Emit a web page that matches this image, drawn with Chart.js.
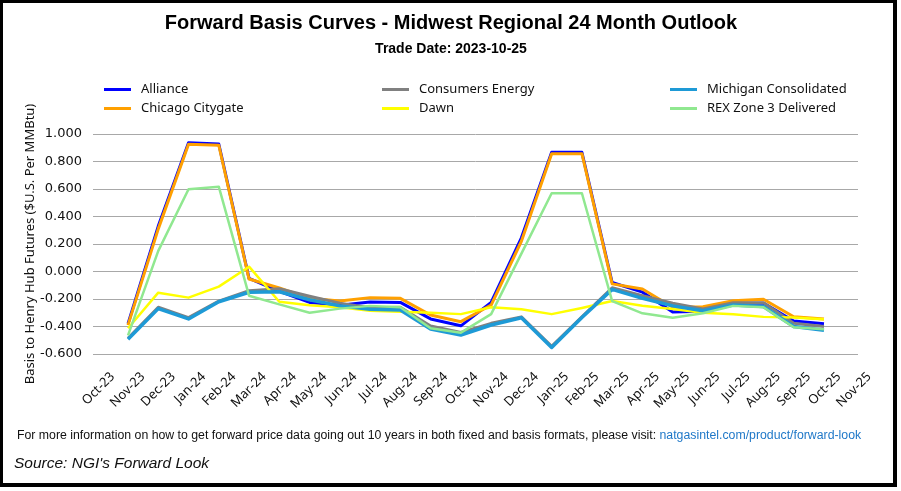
<!DOCTYPE html>
<html>
<head>
<meta charset="utf-8">
<script src="https://cdn.jsdelivr.net/npm/chart.js@4.4.0/dist/chart.umd.min.js"></script>
<style>
  html, body { margin: 0; padding: 0; background: #fff; }
  #wrap { position: relative; width: 901px; height: 491px; overflow: hidden; background: #fff; }
  #c { position: absolute; left: 0; top: 0; }
  .frame { position: absolute; left: 0; top: 0; width: 897px; height: 487px; box-sizing: border-box;
           border-style: solid; border-color: #000; border-width: 3px 4px 4px 3px; pointer-events: none; }
  .title { position: absolute; left: 0; width: 902px; text-align: center; white-space: nowrap;
           font-family: "Liberation Sans", Arial, sans-serif; font-weight: bold; color: #000; }
  #t1 { top: 12px; font-size: 20px; line-height: 20px; }
  #t2 { top: 41px; font-size: 14px; line-height: 14px; }
  .lg { position: absolute; font-family: "Noto Sans", sans-serif; font-size: 13px; line-height: 16px; color: #111; white-space: nowrap; }
  .sw { position: absolute; height: 3px; width: 27px; }
  #note { position: absolute; left: 17px; top: 429px; font-family: "Liberation Sans", Arial, sans-serif;
          font-size: 12.3px; line-height: 12px; color: #111; white-space: nowrap; }
  #note span { color: #1F78C8; }
  #src { position: absolute; left: 14px; top: 455px; font-family: "Liberation Sans", Arial, sans-serif;
         font-style: italic; font-size: 15.5px; line-height: 16px; color: #111; white-space: nowrap; }
</style>
</head>
<body>
<div id="wrap">
  <canvas id="c" width="901" height="491"></canvas>
  <div class="title" id="t1">Forward Basis Curves - Midwest Regional 24 Month Outlook</div>
  <div class="title" id="t2">Trade Date: 2023-10-25</div>
  <div id="legend"></div>
  <div id="note">For more information on how to get forward price data going out 10 years in both fixed and basis formats, please visit: <span>natgasintel.com/product/forward-look</span></div>
  <div id="src">Source: NGI's Forward Look</div>
  <div class="frame"></div>
</div>
<script>
// Axis tick labels (month axis)
const months = ['Oct-23','Nov-23','Dec-23','Jan-24','Feb-24','Mar-24','Apr-24','May-24','Jun-24','Jul-24','Aug-24','Sep-24','Oct-24',
                'Nov-24','Dec-24','Jan-25','Feb-25','Mar-25','Apr-25','May-25','Jun-25','Jul-25','Aug-25','Sep-25','Oct-25','Nov-25'];
// Contract months that carry data (Nov-23 .. Oct-25)
const contractMonths = months.slice(1, 25);

const seriesNames = ['Alliance', 'Chicago Citygate', 'Consumers Energy', 'Dawn', 'Michigan Consolidated', 'REX Zone 3 Delivered'];

const alliance = [-0.380, 0.330, 0.937, 0.927, -0.050, -0.145, -0.225, -0.245, -0.222, -0.225, -0.345, -0.395,
                  -0.225, 0.245, 0.867, 0.867, -0.080, -0.150, -0.295, -0.290, -0.230, -0.230, -0.360, -0.380];
const chicagoCitygate = [-0.390, 0.310, 0.925, 0.918, -0.055, -0.120, -0.195, -0.215, -0.190, -0.195, -0.316, -0.365,
                  -0.244, 0.220, 0.857, 0.857, -0.090, -0.127, -0.260, -0.256, -0.212, -0.202, -0.329, -0.345];
const consumersEnergy = [-0.486, -0.260, -0.335, -0.215, -0.140, -0.125, -0.180, -0.230, -0.263, -0.260, -0.396, -0.443,
                  -0.377, -0.330, -0.545, -0.330, -0.118, -0.176, -0.231, -0.273, -0.227, -0.227, -0.377, -0.400];
const dawn = [-0.413, -0.154, -0.190, -0.110, 0.035, -0.220, -0.245, -0.260, -0.285, -0.292, -0.300, -0.310,
                  -0.260, -0.275, -0.310, -0.265, -0.215, -0.249, -0.273, -0.300, -0.311, -0.330, -0.335, -0.348];
const michiganConsolidated = [-0.493, -0.270, -0.345, -0.220, -0.151, -0.147, -0.205, -0.250, -0.275, -0.280, -0.418, -0.462,
                  -0.389, -0.336, -0.552, -0.335, -0.130, -0.195, -0.250, -0.285, -0.244, -0.255, -0.400, -0.428];
const rexZone3 = [-0.465, 0.150, 0.598, 0.617, -0.176, -0.239, -0.300, -0.270, -0.250, -0.260, -0.413, -0.445,
                  -0.310, 0.130, 0.569, 0.569, -0.215, -0.304, -0.336, -0.304, -0.250, -0.260, -0.406, -0.420];

const seriesValues = [alliance, chicagoCitygate, consumersEnergy, dawn, michiganConsolidated, rexZone3];
const seriesColors = ['#0000FF', '#FFA000', '#808080', '#FFFF00', '#1E9AD6', '#90E890'];
const seriesWidths = [3, 3, 3, 2.5, 3.5, 2.5];

const toPoints = vals => vals.map((v, i) => ({ x: months.indexOf(contractMonths[i]), y: v }));

const datasets = seriesNames.map((name, k) => ({
  label: name,
  data: toPoints(seriesValues[k]),
  borderColor: seriesColors[k],
  backgroundColor: seriesColors[k],
  borderWidth: seriesWidths[k],
  pointRadius: 0,
  tension: 0,
  fill: false,
  borderJoinStyle: 'round',
  order: seriesNames.length - 1 - k
}));

const chart = new Chart(document.getElementById('c'), {
  type: 'line',
  data: { datasets },
  options: {
    responsive: false,
    animation: false,
    devicePixelRatio: 1,
    layout: { padding: { left: 0, top: 134, right: 43, bottom: 0 } },
    plugins: { legend: { display: false }, title: { display: false }, tooltip: { enabled: false } },
    scales: {
      x: {
        type: 'linear',
        min: -0.157,
        max: 25.124,
        afterBuildTicks: s => { s.ticks = months.map((m, i) => ({ value: i })); },
        afterFit: s => { s.height = 137; },
        grid: { display: false, drawTicks: false },
        border: { display: false },
        ticks: {
          autoSkip: false, minRotation: 45, maxRotation: 45, labelOffset: 15, padding: 15,
          color: '#111', font: { family: 'Noto Sans', size: 13 },
          callback: v => (months[v] !== undefined ? months[v] : '')
        }
      },
      y: {
        min: -0.6,
        max: 1.0,
        afterFit: s => { s.width = 93; },
        grid: { color: '#a8a8a8', lineWidth: 1, drawTicks: false },
        border: { display: false },
        ticks: {
          stepSize: 0.2, padding: 11, color: '#111', font: { family: 'DejaVu Sans', size: 13 },
          callback: v => (Math.abs(v) < 1e-9 ? 0 : v).toFixed(3)
        },
        title: {
          display: true, text: 'Basis to Henry Hub Futures ($U.S. Per MMBtu)', color: '#111',
          font: { family: 'Noto Sans', size: 13 }, padding: { top: 22, bottom: 0 }
        }
      }
    }
  }
});

// HTML legend built from the chart's datasets, in 3 columns x 2 rows
const legendCols = [104, 382, 670];
const legendRows = [89, 108];
const legendEl = document.getElementById('legend');
chart.data.datasets.forEach((ds, k) => {
  const col = Math.floor(k / 2), row = k % 2;
  const x = legendCols[col], y = legendRows[row];
  const sw = document.createElement('div');
  sw.className = 'sw';
  sw.style.left = x + 'px';
  sw.style.top = (y - 1.5) + 'px';
  sw.style.background = ds.borderColor;
  legendEl.appendChild(sw);
  const tx = document.createElement('div');
  tx.className = 'lg';
  tx.style.left = (x + 37) + 'px';
  tx.style.top = (y - 9) + 'px';
  tx.textContent = ds.label;
  legendEl.appendChild(tx);
});
</script>
</body>
</html>
